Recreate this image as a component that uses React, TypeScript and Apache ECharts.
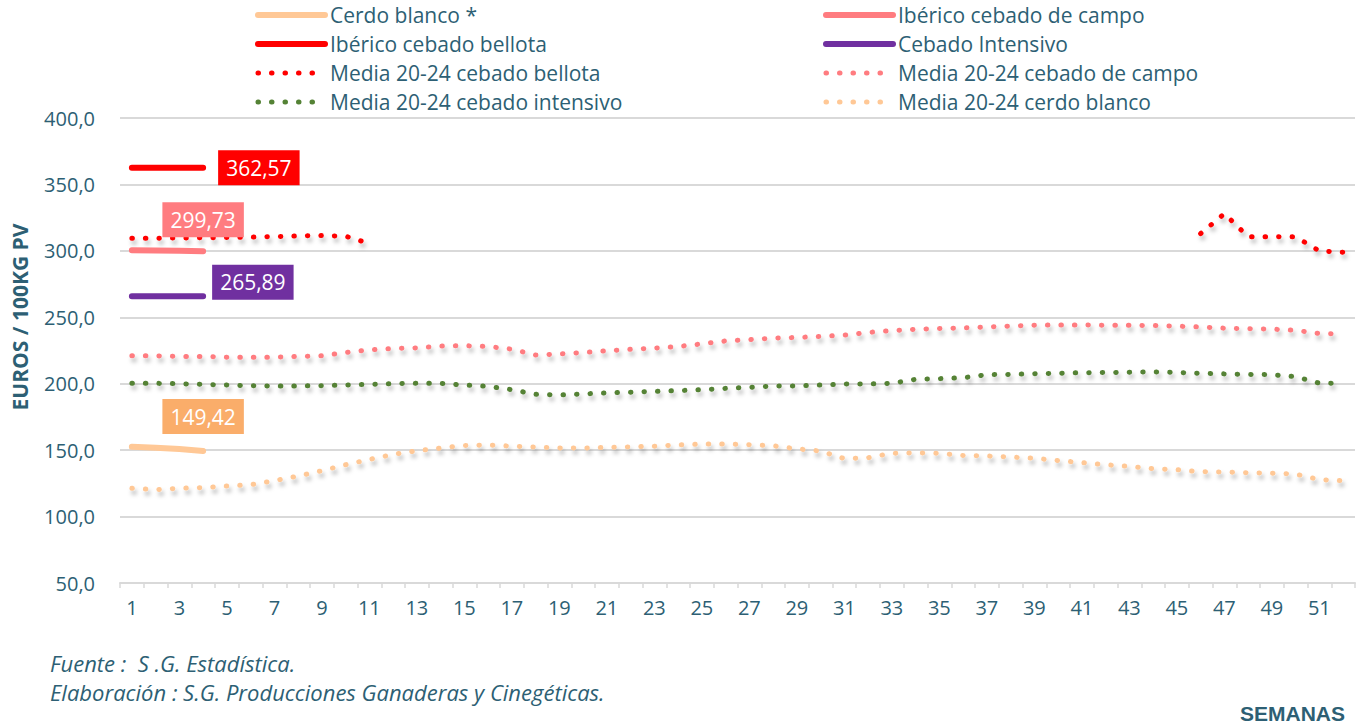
import React, { useEffect, useRef } from "react";
import * as echarts from "echarts";

// ---- Data ----
const weeks: string[] = Array.from({ length: 52 }, (_, i) => String(i + 1));

const seriesNames = [
  "Cerdo blanco *",
  "Ibérico cebado de campo",
  "Ibérico cebado bellota",
  "Cebado Intensivo",
  "Media 20-24 cebado bellota",
  "Media 20-24 cebado de campo",
  "Media 20-24 cebado intensivo",
  "Media 20-24 cerdo blanco",
];

// 2025 weekly prices (weeks 1-4)
const cerdoBlanco = [152.5, 151.8, 150.8, 149.42];
const ibericoCampo = [300.5, 300.3, 300.0, 299.73];
const ibericoBellota = [362.6, 362.6, 362.6, 362.57];
const cebadoIntensivo = [265.9, 265.9, 265.9, 265.89];

// 2020-24 averages
const mediaBellota: (number | null)[] = [
  309.5, 309.5, 309.7, 309.8, 310.0, 310.3, 310.7, 311.2, 311.5, 311.0,
  305.5, null, null, null, null, null, null, null, null, null,
  null, null, null, null, null, null, null, null, null, null,
  null, null, null, null, null, null, null, null, null, null,
  null, null, null, null, null, 313.0, 328.0, 310.7, 310.7, 310.5,
  300.0, 299.0,
];
const mediaCampo = [
  221.0, 221.0, 220.5, 220.5, 220.0, 220.0, 220.0, 220.5, 221.0, 223.5,
  225.5, 226.5, 227.0, 228.3, 228.6, 228.0, 226.0, 221.6, 222.4, 223.5,
  224.8, 225.9, 226.8, 228.0, 230.0, 232.2, 233.2, 234.3, 234.8, 235.6,
  236.6, 238.6, 240.0, 241.0, 241.6, 242.0, 242.7, 243.4, 244.0, 244.2,
  244.2, 244.0, 244.0, 243.8, 243.3, 242.7, 241.8, 241.4, 241.1, 240.2,
  237.8, 237.4,
];
const mediaIntensivo = [
  200.3, 200.3, 200.0, 199.5, 199.0, 198.5, 198.3, 198.3, 198.5, 199.0,
  199.5, 200.0, 200.3, 200.3, 199.0, 198.0, 195.5, 192.0, 191.5, 192.3,
  193.1, 193.6, 194.2, 194.8, 195.5, 196.5, 197.3, 198.2, 198.3, 199.0,
  199.7, 199.8, 200.3, 203.3, 203.8, 204.5, 206.8, 207.0, 207.5, 207.9,
  208.3, 208.4, 208.7, 208.8, 208.5, 207.8, 207.4, 207.0, 206.8, 205.3,
  200.4, 200.3,
];
const mediaCerdoBlanco = [
  121.3, 120.3, 121.3, 121.8, 123.0, 124.0, 127.0, 130.5, 134.5, 139.0,
  143.0, 146.8, 149.5, 151.6, 153.5, 153.9, 153.0, 152.3, 151.6, 151.5,
  152.1, 152.4, 153.0, 153.9, 154.6, 154.6, 154.1, 153.3, 151.0, 149.3,
  143.6, 144.3, 147.7, 147.8, 147.7, 146.0, 145.6, 144.8, 143.9, 142.2,
  140.6, 139.0, 137.8, 136.0, 135.3, 133.7, 133.6, 133.0, 132.7, 132.0,
  127.8, 127.0,
];

const yTicks = { min: 50, max: 400, interval: 50 };

const TEXT = "#2D5F74";
const FONT = "'Open Sans', sans-serif";

const colors = {
  cerdo: "#FFC896",
  cerdoLabel: "#FAAD6A",
  campo: "#FF7C80",
  bellota: "#FF0000",
  intensivo: "#7030A0",
  green: "#548235",
};

const shadow = {
  shadowColor: "rgba(0,0,0,0.28)",
  shadowBlur: 4,
  shadowOffsetX: 2,
  shadowOffsetY: 4,
};

function withEndLabel(values: number[], label: any) {
  return values.map((v, i) =>
    i === values.length - 1 ? { value: v, label: { show: true, ...label } } : v
  );
}

const fmt2 = (p: any) => Number(p.value).toFixed(2).replace(".", ",");

function endLabel(bg: string, position: string, extra: any = {}) {
  return {
    position,
    formatter: fmt2,
    backgroundColor: bg,
    color: "#ffffff",
    fontSize: 21,
    fontFamily: FONT,
    height: 26,
    lineHeight: 26,
    padding: [5, 8, 4, 8],
    ...extra,
  };
}

function solidSeries(name: string, color: string, data: any[]) {
  return {
    name,
    type: "line",
    data,
    symbol: "circle",
    symbolSize: 2,
    showSymbol: true,
    z: 5,
    lineStyle: { color, width: 6, cap: "round", join: "round" },
    itemStyle: { color },
  };
}

function dottedSeries(name: string, color: string, data: any[]) {
  return {
    name,
    type: "line",
    data,
    symbol: "none",
    connectNulls: false,
    z: 3,
    lineStyle: {
      color,
      width: 5,
      type: [0.5, 13],
      cap: "round",
      join: "round",
      ...shadow,
    },
    itemStyle: { color },
  };
}

const noShadow = { shadowBlur: 0, shadowColor: "transparent", shadowOffsetX: 0, shadowOffsetY: 0 };

function legendItem(name: string, color: string, dotted: boolean) {
  return {
    name,
    itemStyle: { opacity: 0 },
    lineStyle: dotted
      ? { color, width: 5, type: [0.5, 13], cap: "round", ...noShadow }
      : { color, width: 6, type: "solid", cap: "round", ...noShadow },
  };
}

export default function App() {
  const ref = useRef<HTMLDivElement>(null);

  useEffect(() => {
    if (!ref.current) return;
    const chart = echarts.init(ref.current, undefined, { renderer: "svg" });

    const legendCommon = {
      orient: "vertical",
      top: 4,
      padding: 0,
      itemWidth: 67,
      itemHeight: 2,
      itemGap: 7,
      textStyle: {
        color: TEXT,
        fontSize: 21,
        fontFamily: FONT,
        lineHeight: 22,
      },
      selectedMode: false,
    };

    chart.setOption({
      animation: false,
      backgroundColor: "#ffffff",
      textStyle: { fontFamily: FONT },
      legend: [
        {
          ...legendCommon,
          left: 255,
          data: [
            legendItem(seriesNames[0], colors.cerdo, false),
            legendItem(seriesNames[2], colors.bellota, false),
            legendItem(seriesNames[4], colors.bellota, true),
            legendItem(seriesNames[6], colors.green, true),
          ],
        },
        {
          ...legendCommon,
          left: 823,
          data: [
            legendItem(seriesNames[1], colors.campo, false),
            legendItem(seriesNames[3], colors.intensivo, false),
            legendItem(seriesNames[5], colors.campo, true),
            legendItem(seriesNames[7], colors.cerdo, true),
          ],
        },
      ],
      grid: { left: 120, right: 9, top: 118, bottom: 142, containLabel: false },
      xAxis: {
        type: "category",
        data: weeks,
        boundaryGap: true,
        axisLine: { show: true, lineStyle: { color: "#D9D9D9", width: 2 } },
        axisTick: {
          show: true,
          interval: 0,
          length: 5,
          lineStyle: { color: "#D9D9D9", width: 1.5 },
        },
        axisLabel: {
          interval: 1,
          color: TEXT,
          fontSize: 20,
          fontFamily: FONT,
          margin: 14,
        },
        splitLine: { show: false },
      },
      yAxis: {
        type: "value",
        min: yTicks.min,
        max: yTicks.max,
        interval: yTicks.interval,
        axisLine: { show: false },
        axisTick: { show: false },
        axisLabel: {
          color: TEXT,
          fontSize: 20,
          fontFamily: FONT,
          margin: 25,
          formatter: (v: number) => v.toFixed(1).replace(".", ","),
        },
        splitLine: { show: true, lineStyle: { color: "#D9D9D9", width: 2 } },
      },
      series: [
        solidSeries(
          seriesNames[0],
          colors.cerdo,
          withEndLabel(cerdoBlanco, endLabel(colors.cerdoLabel, "top", { distance: 16 }))
        ),
        solidSeries(
          seriesNames[1],
          colors.campo,
          withEndLabel(ibericoCampo, endLabel(colors.campo, "top", { distance: 13 }))
        ),
        solidSeries(
          seriesNames[2],
          colors.bellota,
          withEndLabel(ibericoBellota, endLabel(colors.bellota, "right", { distance: 14 }))
        ),
        solidSeries(
          seriesNames[3],
          colors.intensivo,
          withEndLabel(
            cebadoIntensivo,
            endLabel(colors.intensivo, "right", { distance: 8, offset: [0, -14] })
          )
        ),
        dottedSeries(seriesNames[4], colors.bellota, mediaBellota),
        dottedSeries(seriesNames[5], colors.campo, mediaCampo),
        dottedSeries(seriesNames[6], colors.green, mediaIntensivo),
        dottedSeries(seriesNames[7], colors.cerdo, mediaCerdoBlanco),
      ],
      graphic: [
        {
          type: "text",
          x: 20,
          y: 317,
          rotation: Math.PI / 2,
          style: {
            text: "EUROS / 100KG PV",
            fill: TEXT,
            font: `bold 21px ${FONT}`,
            align: "center",
            verticalAlign: "middle",
          },
        },
        {
          type: "text",
          x: 50,
          y: 663,
          style: {
            text: "Fuente :  S .G. Estadística.",
            fill: TEXT,
            font: `italic 22px ${FONT}`,
            verticalAlign: "middle",
          },
        },
        {
          type: "text",
          x: 50,
          y: 692,
          style: {
            text: "Elaboración : S.G. Producciones Ganaderas y Cinegéticas.",
            fill: TEXT,
            font: `italic 22px ${FONT}`,
            verticalAlign: "middle",
          },
        },
        {
          type: "text",
          x: 1345,
          y: 713,
          style: {
            text: "SEMANAS",
            fill: TEXT,
            font: "bold 21px 'Liberation Sans', Arial, sans-serif",
            align: "right",
            verticalAlign: "middle",
          },
        },
      ],
    });

    return () => chart.dispose();
  }, []);

  return (
    <div
      ref={ref}
      style={{ position: "fixed", left: 0, top: 0, width: 1364, height: 725 }}
    />
  );
}
